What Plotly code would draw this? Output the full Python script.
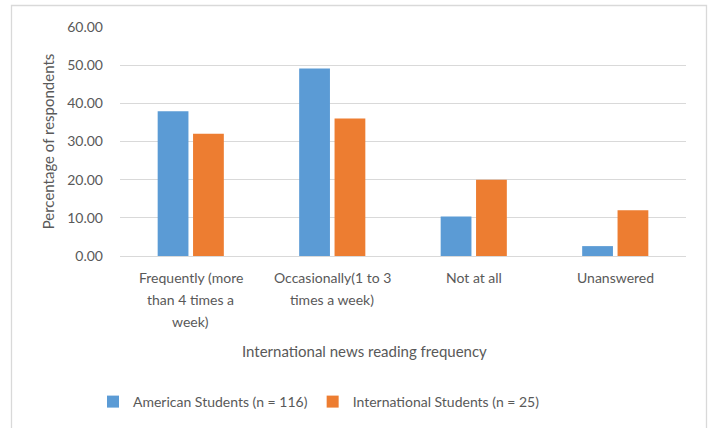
import plotly.graph_objects as go

# Survey results: share of respondents by international news reading frequency
categories = [
    "Frequently (more than 4 times a week)",
    "Occasionally(1 to 3 times a week)",
    "Not at all",
    "Unanswered",
]
# wrapped category labels, one list of lines per category
category_lines = [
    ["Frequently (more", "than 4 times a", "week)"],
    ["Occasionally(1 to 3", "times a week)"],
    ["Not at all"],
    ["Unanswered"],
]
american_pct = [37.93, 49.14, 10.34, 2.59]
international_pct = [32.00, 36.00, 20.00, 12.00]
series_names = ["American Students (n = 116)", "International Students (n = 25)"]
y_ticks = [0, 10, 20, 30, 40, 50, 60]

BLUE = "#5b9bd5"
ORANGE = "#ed7d31"
TEXT = "#595959"
GRID = "#d9d9d9"
FONT = "Lato, 'Open Sans', sans-serif"

fig = go.Figure()
fig.add_trace(go.Bar(x=categories, y=american_pct, name=series_names[0],
                     marker=dict(color=BLUE, line=dict(width=0))))
fig.add_trace(go.Bar(x=categories, y=international_pct, name=series_names[1],
                     marker=dict(color=ORANGE, line=dict(width=0))))

# plot area spans x 120..686, y 27..256 within the 711x428 page
L, R, T, B = 120, 25, 27, 172
W, H = 711, 428
pw, ph = W - L - R, H - T - B


def py(pixel_y):
    """Page pixel row -> paper y coordinate."""
    return (H - B - pixel_y) / ph


def px(pixel_x):
    """Page pixel column -> paper x coordinate."""
    return (pixel_x - L) / pw


# category labels, one annotation per wrapped line (22 px line pitch)
annotations = []
for cat, lines in zip(categories, category_lines):
    for i, line in enumerate(lines):
        annotations.append(dict(
            text=line, x=cat, xref="x", y=py(277 + 22 * i), yref="paper",
            xanchor="center", yanchor="middle", showarrow=False,
            font=dict(size=14, color=TEXT),
        ))

annotations.append(dict(
    text="International news reading frequency", xref="paper", yref="paper",
    x=px(364), y=py(351), xanchor="center", yanchor="middle",
    showarrow=False, font=dict(size=15, color=TEXT),
))

fig.update_layout(
    width=W, height=H,
    margin=dict(l=L, r=R, t=T, b=B, pad=0, autoexpand=False),
    paper_bgcolor="white", plot_bgcolor="white",
    barmode="group", bargap=0.5, bargroupgap=0.13,
    font=dict(family=FONT, size=14, color=TEXT),
    showlegend=True,
    legend=dict(
        orientation="h", xref="container", yref="container",
        x=93 / W, xanchor="left", y=1 - 402 / H, yanchor="middle",
        font=dict(size=14, color=TEXT),
        itemwidth=30, tracegroupgap=0,
    ),
    xaxis=dict(
        showticklabels=False,
        showgrid=False, zeroline=False, showline=False, ticks="",
        title=None,
    ),
    yaxis=dict(
        range=[0, 60], tickvals=y_ticks, tickformat=".2f",
        showgrid=True, gridcolor=GRID, gridwidth=1.3,
        zeroline=True, zerolinecolor=GRID, zerolinewidth=1.3,
        showline=False, ticks="", ticklabelstandoff=16,
        tickfont=dict(size=14, color=TEXT),
        title=dict(text="Percentage of respondents", standoff=8,
                   font=dict(size=15, color=TEXT)),
    ),
    annotations=annotations,
    shapes=[
        # chart frame
        dict(type="rect", xref="paper", yref="paper",
             x0=px(11.5), x1=px(706.5), y0=py(440), y1=py(5.5),
             line=dict(color=GRID, width=1.3), fillcolor="rgba(0,0,0,0)", layer="below"),
    ],
)

fig.write_html("out.html")
